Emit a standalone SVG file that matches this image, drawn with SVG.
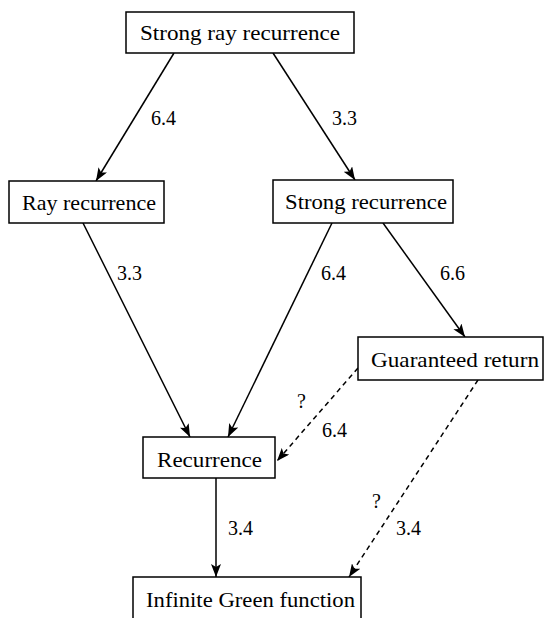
<svg xmlns="http://www.w3.org/2000/svg" width="545" height="618" viewBox="0 0 545 618">
<defs>
<style>
.box{fill:#fff;stroke:#000;stroke-width:1.5}
.t{font-family:"Liberation Serif","DejaVu Serif",serif;font-size:21px;fill:#000}
.l{font-family:"Liberation Serif","DejaVu Serif",serif;font-size:20px;fill:#000}
.c{fill:none;stroke:#000;stroke-width:1.5}
.d{stroke-dasharray:5,4}
</style>
<marker id="ah" viewBox="0 0 13 10" refX="13" refY="5" markerWidth="13" markerHeight="10" markerUnits="userSpaceOnUse" orient="auto">
<path d="M0,0 L13,5 L0,10 L3,5 Z" fill="#000"/>
</marker>
</defs>
<rect width="545" height="618" fill="#fff"/>
<g id="connectors">
<line class="c" x1="174" y1="53" x2="96" y2="181" marker-end="url(#ah)"/>
<line class="c" x1="273" y1="53" x2="355" y2="180" marker-end="url(#ah)"/>
<line class="c" x1="83" y1="223" x2="190" y2="437" marker-end="url(#ah)"/>
<line class="c" x1="332" y1="223" x2="228" y2="437" marker-end="url(#ah)"/>
<line class="c" x1="383" y1="223" x2="465" y2="337" marker-end="url(#ah)"/>
<line class="c d" x1="358" y1="368" x2="277" y2="461" marker-end="url(#ah)"/>
<line class="c d" x1="478" y1="380" x2="349" y2="577" marker-end="url(#ah)"/>
<line class="c" x1="216" y1="478" x2="216" y2="577" marker-end="url(#ah)"/>
<text class="l" x="151" y="125">6.4</text>
<text class="l" x="332" y="125">3.3</text>
<text class="l" x="117" y="280">3.3</text>
<text class="l" x="321" y="280">6.4</text>
<text class="l" x="440" y="280">6.6</text>
<text class="l" x="297" y="408">?</text>
<text class="l" x="322" y="437">6.4</text>
<text class="l" x="228" y="535">3.4</text>
<text class="l" x="372" y="508">?</text>
<text class="l" x="396" y="535">3.4</text>
</g>
<g id="strong-ray-recurrence">
<rect class="box" x="126" y="12" width="228" height="41"/>
<text class="t" x="140" y="40" textLength="200" lengthAdjust="spacingAndGlyphs">Strong ray recurrence</text>
</g>
<g id="ray-recurrence">
<rect class="box" x="9" y="181" width="155" height="42"/>
<text class="t" x="22" y="210" textLength="134" lengthAdjust="spacingAndGlyphs">Ray recurrence</text>
</g>
<g id="strong-recurrence">
<rect class="box" x="273" y="180" width="180" height="43"/>
<text class="t" x="285" y="209" textLength="162" lengthAdjust="spacingAndGlyphs">Strong recurrence</text>
</g>
<g id="guaranteed-return">
<rect class="box" x="358" y="337" width="185" height="43"/>
<text class="t" x="371" y="367" textLength="168" lengthAdjust="spacingAndGlyphs">Guaranteed return</text>
</g>
<g id="recurrence">
<rect class="box" x="143" y="437" width="132" height="41"/>
<text class="t" x="157" y="467" textLength="105" lengthAdjust="spacingAndGlyphs">Recurrence</text>
</g>
<g id="infinite-green-function">
<rect class="box" x="133" y="577" width="228" height="50"/>
<text class="t" x="146" y="607" textLength="209" lengthAdjust="spacingAndGlyphs">Infinite Green function</text>
</g>
</svg>
